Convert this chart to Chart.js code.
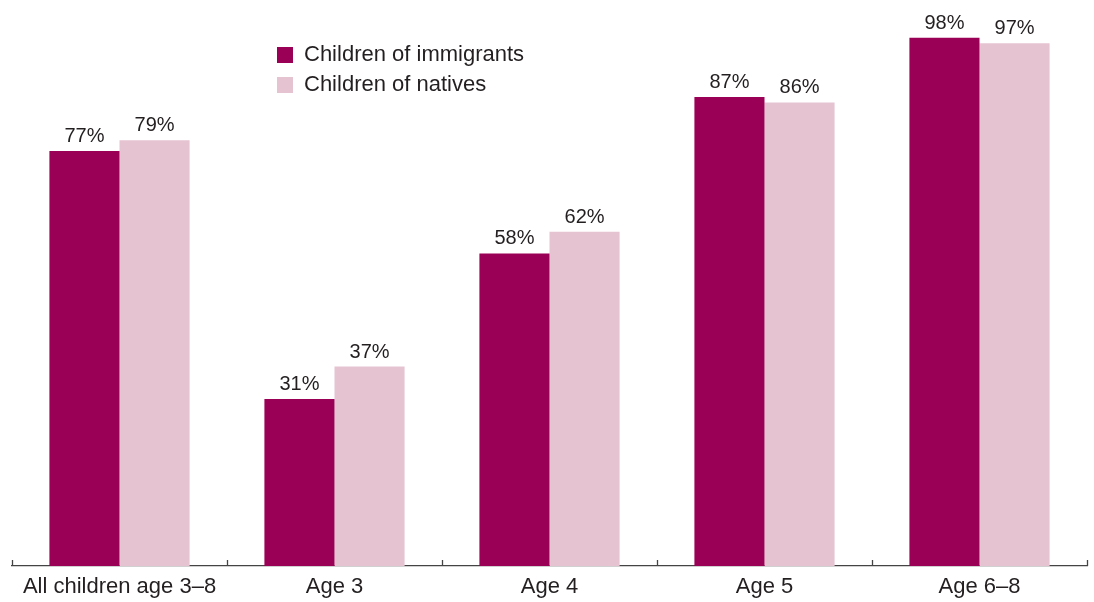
<!DOCTYPE html>
<html>
<head>
<meta charset="utf-8">
<script src="https://cdn.jsdelivr.net/npm/chart.js@4.4.1/dist/chart.umd.min.js"></script>
<style>
	html, body { margin: 0; padding: 0; background: #fff; }
	#wrap { width: 1094px; height: 602px; }
</style>
</head>
<body>
<div id="wrap"><canvas id="chart"></canvas></div>
<script>
const categories = ['All children age 3\u20138', 'Age 3', 'Age 4', 'Age 5', 'Age 6\u20138']
const immigrants = [77, 31, 58, 87, 98]
const natives = [79, 37, 62, 86, 97]
const seriesNames = ['Children of immigrants', 'Children of natives']

const textColor = '#231f20'
const fontFamily = '"Liberation Sans", Arial, Helvetica, sans-serif'

// value labels above each bar
const valueLabels = {
	id: 'valueLabels',
	afterDatasetsDraw(chart) {
		const ctx = chart.ctx
		ctx.save()
		ctx.font = '20px ' + fontFamily
		ctx.fillStyle = textColor
		ctx.textAlign = 'center'
		ctx.textBaseline = 'alphabetic'
		chart.data.datasets.forEach((ds, i) => {
			chart.getDatasetMeta(i).data.forEach((bar, j) => {
				ctx.fillText(ds.data[j] + '%', bar.x, bar.y - 9)
			})
		})
		ctx.restore()
	}
}

// small upward ticks between categories on the x axis
const axisTicks = {
	id: 'axisTicks',
	afterDraw(chart) {
		const xs = chart.scales.x
		const ctx = chart.ctx
		const step = xs.width / categories.length
		ctx.save()
		ctx.strokeStyle = '#444'
		ctx.lineWidth = 1.3
		for (let i = 0; i <= categories.length; i++) {
			let x = Math.round(xs.left + i * step) + 0.5
			ctx.beginPath()
			ctx.moveTo(x, xs.top)
			ctx.lineTo(x, xs.top - 6)
			ctx.stroke()
		}
		ctx.restore()
	}
}

// move the legend into the empty space over the chart
const legendPlace = {
	id: 'legendPlace',
	afterUpdate(chart) {
		const lg = chart.legend
		const w = lg.width, h = lg.height
		lg.left = 269
		lg.top = 36
		lg.right = lg.left + w
		lg.bottom = lg.top + h
		lg.adjustHitBoxes()
	}
}

new Chart(document.getElementById('chart'), {
	type: 'bar',
	data: {
		labels: categories,
		datasets: [
			{
				label: seriesNames[0],
				data: immigrants,
				backgroundColor: '#9b0057'
			},
			{
				label: seriesNames[1],
				data: natives,
				backgroundColor: '#e6c3d1'
			}
		]
	},
	options: {
		responsive: true,
		maintainAspectRatio: false,
		animation: false,
		layout: {
			padding: {left: 12, right: 7, top: 27, bottom: 0}
		},
		datasets: {
			bar: {
				categoryPercentage: 0.652,
				barPercentage: 1
			}
		},
		scales: {
			x: {
				grid: {display: false, drawTicks: false},
				border: {display: true, color: '#444', width: 1.3},
				ticks: {
					color: textColor,
					padding: 8,
					font: {family: fontFamily, size: 22}
				},
				afterFit: (scale) => { scale.height = 36 }
			},
			y: {
				display: false,
				min: 0,
				max: 100
			}
		},
		plugins: {
			legend: {
				position: 'chartArea',
				align: 'start',
				labels: {
					boxWidth: 16,
					boxHeight: 16,
					padding: 8,
					color: textColor,
					font: {family: fontFamily, size: 22}
				}
			},
			tooltip: {enabled: false}
		}
	},
	plugins: [valueLabels, axisTicks, legendPlace]
})
</script>
</body>
</html>
